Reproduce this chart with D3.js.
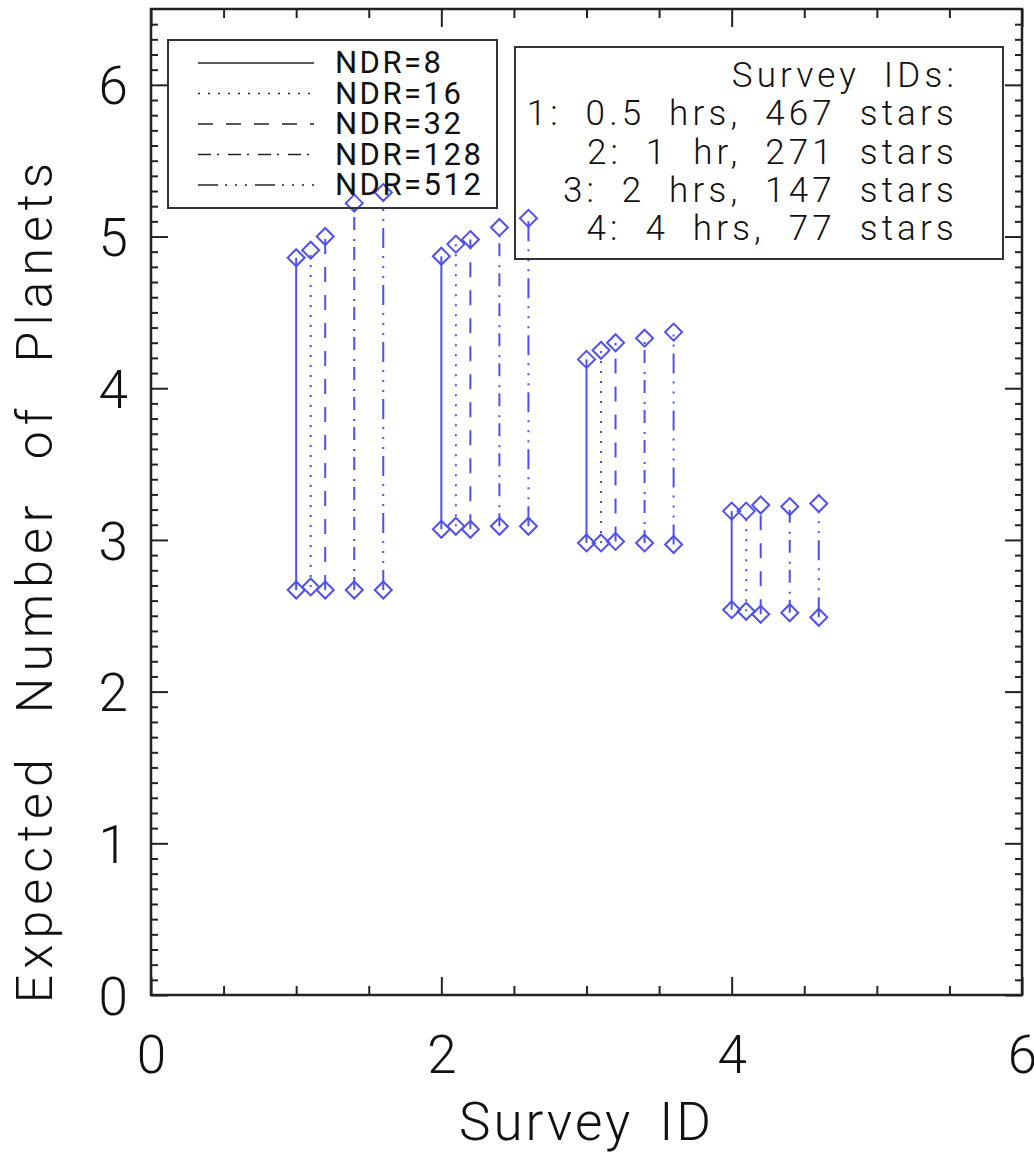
<!DOCTYPE html>
<html>
<head>
<meta charset="utf-8">
<script src="https://cdn.jsdelivr.net/npm/d3@7"></script>
<style>
  body { margin: 0; background: #fff; }
  svg { display: block; font-family: Roboto, "DejaVu Sans", sans-serif; font-weight: 300; }
</style>
</head>
<body>
<svg id="chart"></svg>
<script>
// survey ids on the x axis, NDR series drawn a little to the right of each id
const surveyIds = [1, 2, 3, 4];
const ndrLabels = ['NDR=8', 'NDR=16', 'NDR=32', 'NDR=128', 'NDR=512'];
const xOffsets = [0, 0.1, 0.2, 0.4, 0.6];

// upper / lower expected number of planets, one row per NDR, one column per survey
const upperVals = [
  [4.86, 4.87, 4.19, 3.19],
  [4.91, 4.95, 4.25, 3.19],
  [5.00, 4.98, 4.30, 3.23],
  [5.22, 5.06, 4.33, 3.22],
  [5.29, 5.12, 4.37, 3.24]
];
const lowerVals = [
  [2.67, 3.07, 2.98, 2.54],
  [2.69, 3.09, 2.98, 2.53],
  [2.67, 3.07, 2.99, 2.51],
  [2.67, 3.09, 2.98, 2.52],
  [2.67, 3.09, 2.97, 2.49]
];

const surveyNotes = [
  'Survey IDs:',
  '1: 0.5 hrs, 467 stars',
  '2: 1 hr, 271 stars',
  '3: 2 hrs, 147 stars',
  '4: 4 hrs, 77 stars'
];

const xMajor = [0, 2, 4, 6];
const yMajor = [0, 1, 2, 3, 4, 5, 6];

const dashes = ['none', '2,8', '15,13', '13,6,2,9', '20,7,2,8,2,8,2,8'];
const blue = '#5050f0';

const W = 1034, H = 1152;
const margin = { top: 9, right: 12, bottom: 157, left: 151 };
const w = W - margin.left - margin.right;
const h = H - margin.top - margin.bottom;

const svg = d3.select('#chart')
  .attr('width', W)
  .attr('height', H);

svg.append('rect').attr('width', W).attr('height', H).attr('fill', '#fff');

const g = svg.append('g')
  .attr('transform', `translate(${margin.left},${margin.top})`);

const xScale = d3.scaleLinear().domain([0, 6]).range([0, w]);
const yScale = d3.scaleLinear().domain([0, 6.5]).range([h, 0]);

const xMinor = d3.range(0, 6.01, 0.5).filter(v => v % 2 !== 0);
const yMinor = d3.range(0, 65).map(i => i / 10).filter(v => Math.abs(v - Math.round(v)) > 1e-6);

// ticks point inward on all four sides
function styleAxis(sel) {
  sel.select('.domain').remove();
  sel.selectAll('line').attr('stroke', '#222').attr('stroke-width', 2);
  sel.selectAll('text').attr('fill', '#111').style('font-family', 'Roboto, "DejaVu Sans", sans-serif')
    .style('font-weight', 300);
}

g.append('g').attr('transform', `translate(0,${h})`)
  .call(d3.axisBottom(xScale).tickValues(xMajor).tickFormat(d3.format('d'))
    .tickSizeInner(-18).tickSizeOuter(0).tickPadding(40))
  .call(styleAxis)
  .selectAll('text').attr('font-size', 53);
g.append('g').attr('transform', `translate(0,${h})`)
  .call(d3.axisBottom(xScale).tickValues(xMinor).tickSizeInner(-9).tickSizeOuter(0).tickFormat(''))
  .call(styleAxis);
g.append('g')
  .call(d3.axisTop(xScale).tickValues(xMajor).tickSizeInner(-18).tickSizeOuter(0).tickFormat(''))
  .call(styleAxis);
g.append('g')
  .call(d3.axisTop(xScale).tickValues(xMinor).tickSizeInner(-9).tickSizeOuter(0).tickFormat(''))
  .call(styleAxis);

g.append('g')
  .call(d3.axisLeft(yScale).tickValues(yMajor).tickFormat(d3.format('d'))
    .tickSizeInner(-17).tickSizeOuter(0).tickPadding(23))
  .call(styleAxis)
  .selectAll('text').attr('font-size', 53).attr('dy', '0.36em');
g.append('g')
  .call(d3.axisLeft(yScale).tickValues(yMinor).tickSizeInner(-7).tickSizeOuter(0).tickFormat(''))
  .call(styleAxis);
g.append('g').attr('transform', `translate(${w},0)`)
  .call(d3.axisRight(yScale).tickValues(yMajor).tickSizeInner(-17).tickSizeOuter(0).tickFormat(''))
  .call(styleAxis);
g.append('g').attr('transform', `translate(${w},0)`)
  .call(d3.axisRight(yScale).tickValues(yMinor).tickSizeInner(-7).tickSizeOuter(0).tickFormat(''))
  .call(styleAxis);

g.append('rect')
  .attr('width', w).attr('height', h)
  .attr('fill', 'none').attr('stroke', '#222').attr('stroke-width', 2.5);

// legend with line styles (drawn before the data, no fill)
const leg = svg.append('g');
leg.append('rect')
  .attr('x', 168).attr('y', 40).attr('width', 329).attr('height', 168)
  .attr('fill', 'none').attr('stroke', '#333').attr('stroke-width', 2);
ndrLabels.forEach((lab, i) => {
  const yy = 63 + i * 30.5;
  leg.append('line')
    .attr('x1', 198).attr('x2', 314).attr('y1', yy).attr('y2', yy)
    .attr('stroke', '#222').attr('stroke-width', 1.6)
    .attr('stroke-dasharray', dashes[i]);
  leg.append('text')
    .attr('x', 335).attr('y', yy + 10)
    .attr('font-size', 31).attr('letter-spacing', 2.5).attr('fill', '#111')
    .style('font-weight', 400)
    .text(lab);
});

// survey description box
const info = svg.append('g');
info.append('rect')
  .attr('x', 515).attr('y', 47).attr('width', 488).attr('height', 212)
  .attr('fill', 'none').attr('stroke', '#333').attr('stroke-width', 2);
surveyNotes.forEach((t, i) => {
  info.append('text')
    .attr('x', 958).attr('y', 87 + i * 38.3)
    .attr('text-anchor', 'end')
    .attr('font-size', 35).attr('letter-spacing', 4.2).attr('word-spacing', 11).attr('fill', '#111')
    .style('white-space', 'pre')
    .text(t);
});

// data: a vertical segment per survey per NDR, diamonds at both ends
const segs = [];
ndrLabels.forEach((lab, i) => {
  surveyIds.forEach((s, j) => {
    segs.push({ k: i, x: s + xOffsets[i], lo: lowerVals[i][j], hi: upperVals[i][j] });
  });
});

g.selectAll('line.seg')
  .data(segs)
  .enter().append('line')
  .attr('class', 'seg')
  .attr('x1', d => xScale(d.x)).attr('x2', d => xScale(d.x))
  .attr('y1', d => yScale(d.lo)).attr('y2', d => yScale(d.hi))
  .attr('stroke', blue).attr('stroke-width', 2)
  .attr('stroke-dasharray', d => dashes[d.k]);

const pts = segs.flatMap(d => [{ x: d.x, y: d.lo }, { x: d.x, y: d.hi }]);
const diamond = 'M0,-8.5L8.5,0L0,8.5L-8.5,0Z';
g.selectAll('path.pt')
  .data(pts)
  .enter().append('path')
  .attr('class', 'pt')
  .attr('d', diamond)
  .attr('transform', d => `translate(${xScale(d.x)},${yScale(d.y)})`)
  .attr('fill', 'none').attr('stroke', blue).attr('stroke-width', 2);

// axis titles
svg.append('text')
  .attr('x', margin.left + w / 2).attr('y', 1140)
  .attr('text-anchor', 'middle')
  .attr('font-size', 53).attr('letter-spacing', 3).attr('word-spacing', 10).attr('fill', '#111')
  .text('Survey ID');
svg.append('text')
  .attr('transform', 'translate(52,580) rotate(-90)')
  .attr('text-anchor', 'middle')
  .attr('font-size', 50).attr('letter-spacing', 6).attr('word-spacing', 22).attr('fill', '#111')
  .text('Expected Number of Planets');
</script>
</body>
</html>
